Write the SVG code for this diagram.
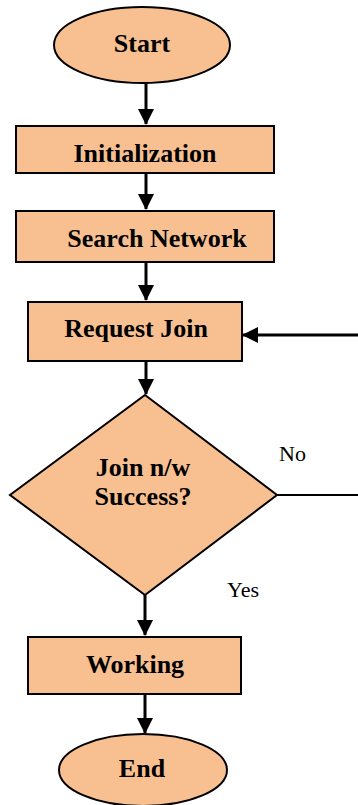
<svg xmlns="http://www.w3.org/2000/svg" width="358" height="805" viewBox="0 0 358 805">
<style>
.n{fill:#F8C091;stroke:#000;stroke-width:2}
.t{font-family:'Liberation Serif','Times New Roman','DejaVu Serif',serif;font-weight:bold;font-size:26px;fill:#000;text-anchor:middle}
.l{font-family:'Liberation Serif','Times New Roman','DejaVu Serif',serif;font-size:22px;fill:#000}
.c{stroke:#000;stroke-width:3;fill:none}
.c1{stroke:#000;stroke-width:2;fill:none}
</style>
<defs>
<marker id="ah" markerWidth="16" markerHeight="16" refX="15" refY="8" orient="auto" markerUnits="userSpaceOnUse">
<path d="M0,0 L16,8 L0,16 Z" fill="#000"/>
</marker>
</defs>
<rect width="358" height="805" fill="#fff"/>
<g id="start"><ellipse class="n" cx="142" cy="45" rx="88" ry="38"/><text class="t" x="142" y="52">Start</text></g>
<g id="init"><rect class="n" x="16" y="126" width="258" height="47"/><text class="t" x="145" y="162">Initialization</text></g>
<g id="search"><rect class="n" x="16" y="211" width="258" height="51"/><text class="t" x="157" y="247">Search Network</text></g>
<g id="request"><rect class="n" x="28" y="302" width="214" height="59"/><text class="t" x="136" y="337">Request Join</text></g>
<g id="decision"><polygon class="n" points="145,395 277,495 145,595 10,495"/><text class="t" x="143" y="476">Join n/w</text><text class="t" x="143" y="505">Success?</text></g>
<g id="working"><rect class="n" x="28" y="637" width="213" height="57"/><text class="t" x="135" y="673">Working</text></g>
<g id="end"><ellipse class="n" cx="143" cy="770" rx="84" ry="36"/><text class="t" x="142" y="777">End</text></g>
<g id="connectors">
<line class="c" x1="146" y1="83" x2="146" y2="124" marker-end="url(#ah)"/>
<line class="c" x1="146" y1="173" x2="146" y2="209" marker-end="url(#ah)"/>
<line class="c" x1="146" y1="262" x2="146" y2="300" marker-end="url(#ah)"/>
<line class="c" x1="146" y1="361" x2="146" y2="394" marker-end="url(#ah)"/>
<line class="c" x1="145" y1="595" x2="145" y2="635" marker-end="url(#ah)"/>
<line class="c" x1="145" y1="694" x2="145" y2="733" marker-end="url(#ah)"/>
<line class="c1" x1="277" y1="495" x2="358" y2="495"/>
<line class="c" x1="358" y1="335" x2="243" y2="335" marker-end="url(#ah)"/>
<text class="l" x="279" y="461">No</text>
<text class="l" x="227" y="597">Yes</text>
</g>
</svg>
